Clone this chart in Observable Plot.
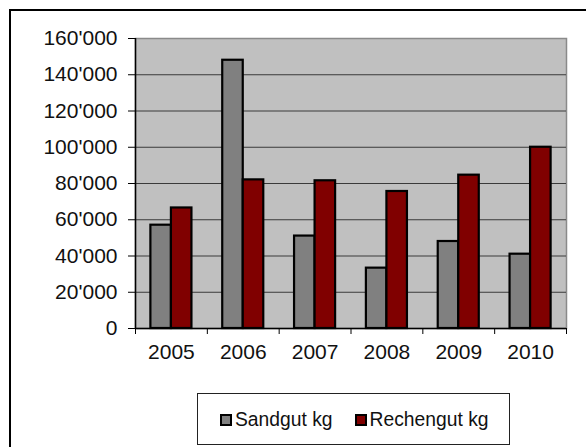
<!DOCTYPE html>
<html>
<head>
<meta charset="utf-8">
<script src="https://cdn.jsdelivr.net/npm/d3@7"></script>
<script src="https://cdn.jsdelivr.net/npm/@observablehq/plot@0.6"></script>
<style>
  html, body { margin: 0; padding: 0; background: #fff; overflow: hidden; width: 586px; height: 447px; }
  #wrap { position: relative; width: 586px; height: 447px; font-family: "Liberation Sans", Arial, sans-serif; }
  #border { position: absolute; left: 9px; top: 9px; width: 700px; height: 600px; border-left: 2px solid #000; border-top: 2px solid #000; box-sizing: border-box; }
  #chart { position: absolute; left: 0; top: 0; }
  #legend { position: absolute; left: 197px; top: 393px; width: 313px; height: 52px; box-sizing: border-box; border: 1.5px solid #222; display: flex; align-items: center; padding-left: 22px; padding-top: 2px; font-size: 19.3px; color: #111; white-space: nowrap; }
  .item { display: flex; align-items: center; margin-right: 22px; flex-shrink: 0; white-space: nowrap; }
  .sw { width: 12px; height: 12px; box-sizing: border-box; border: 2px solid #000; margin-right: 3px; flex-shrink: 0; }
</style>
</head>
<body>
<div id="wrap">
  <div id="border"></div>
  <div id="chart"></div>
  <div id="legend"></div>
</div>
<script>
const years = [2005, 2006, 2007, 2008, 2009, 2010];
const sandgut = [57000, 148000, 51000, 33300, 48000, 41000];
const rechengut = [66500, 82000, 81500, 75600, 84600, 100000];
const seriesNames = ["Sandgut kg", "Rechengut kg"];
const seriesColors = ["#808080", "#800000"];
const yTicks = [0, 20000, 40000, 60000, 80000, 100000, 120000, 140000, 160000];

const rows = [];
years.forEach((yr, i) => {
  rows.push({year: yr, series: seriesNames[0], value: sandgut[i]});
  rows.push({year: yr, series: seriesNames[1], value: rechengut[i]});
});

// Excel-like layout: gap width 150% => bar width = 1/3.5 of category
const barW = 1 / 3.5;
const bounds = years.map(y => y - 0.5).concat([years[years.length - 1] + 0.5]);
const fmt = d3.formatLocale({decimal: ".", thousands: "'", grouping: [3], currency: ["", ""]}).format(",");

const chart = Plot.plot({
  width: 586,
  height: 380,
  marginLeft: 135,
  marginRight: 20,
  marginTop: 38,
  marginBottom: 52,
  style: {fontFamily: "Liberation Sans, Arial, sans-serif", fontSize: "21px", color: "#111", background: "transparent"},
  x: {domain: [bounds[0], bounds[bounds.length - 1]], axis: null},
  y: {domain: [0, 160000], axis: null},
  color: {domain: seriesNames, range: seriesColors},
  marks: [
    Plot.frame({fill: "#c0c0c0", stroke: "#8a8a8a", strokeWidth: 1.5}),
    Plot.ruleY(yTicks.slice(1, -1), {stroke: "#3a3a3a", strokeWidth: 1.2}),
    Plot.rectY(rows, {
      x1: d => d.series === seriesNames[0] ? d.year - barW : d.year,
      x2: d => d.series === seriesNames[0] ? d.year : d.year + barW,
      y: "value",
      fill: "series",
      stroke: "#000",
      strokeWidth: 2.2
    }),
    Plot.ruleY([0], {stroke: "#000", strokeWidth: 1.5}),
    Plot.ruleX([bounds[0]], {stroke: "#000", strokeWidth: 1.5}),
    Plot.axisY(yTicks, {tickSize: 7, tickPadding: 11, tickFormat: fmt, stroke: "#000", label: null}),
    Plot.axisX(bounds, {tickSize: 6, tickFormat: () => "", stroke: "#000", label: null}),
    Plot.axisX(years, {tickSize: 0, tickPadding: 16, tickFormat: d => String(d), label: null})
  ]
});
document.getElementById("chart").appendChild(chart);

const legend = document.getElementById("legend");
seriesNames.forEach((name, i) => {
  const item = document.createElement("div");
  item.className = "item";
  const sw = document.createElement("div");
  sw.className = "sw";
  sw.style.background = seriesColors[i];
  const t = document.createElement("span");
  t.textContent = name;
  item.appendChild(sw);
  item.appendChild(t);
  legend.appendChild(item);
});
</script>
</body>
</html>
